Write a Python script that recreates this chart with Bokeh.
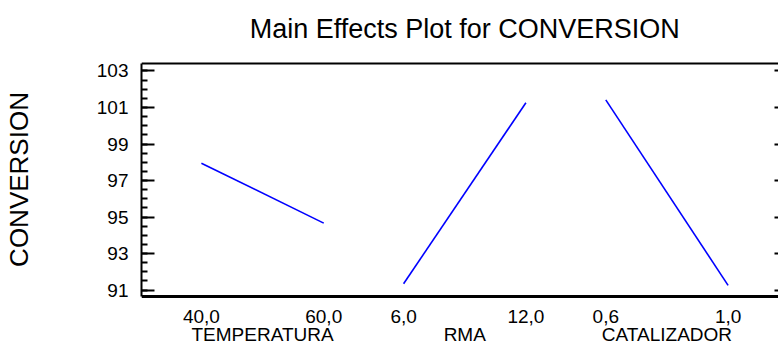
from bokeh.plotting import figure
from bokeh.models import Range1d, LinearAxis, FixedTicker, Span
from bokeh.core.properties import value
from bokeh.embed import file_html
from bokeh.resources import INLINE

# ---- data ----
title_text = "Main Effects Plot for CONVERSION"
y_title = "CONVERSION"
factors = ["TEMPERATURA", "RMA", "CATALIZADOR"]
low_labels = ["40,0", "6,0", "0,6"]
high_labels = ["60,0", "12,0", "1,0"]
low_means = [97.95, 91.35, 101.42]
high_means = [94.67, 101.26, 91.26]
y_ticks = [91, 93, 95, 97, 99, 101, 103]

# ---- layout constants ----
PANEL = 400   # x-units between factor panels
SPAN = 242    # x-units between low and high level within a panel
FONT = "Liberation Sans"
BLUE = "#0000FF"
Y_LO, Y_HI = 90.65, 103.41      # value window of the boxed plot area
BOX_H = 233                     # boxed area height in px
BELOW = 46                      # px under the box for the x labels
ABOVE = 47                      # px over the box for the title
ppu = BOX_H / (Y_HI - Y_LO)
y_start = Y_LO - BELOW / ppu
y_end = Y_HI + ABOVE / ppu

p = figure(width=778, height=342, output_backend="svg", toolbar_location=None,
           x_range=Range1d(-118.5, 1141.7), y_range=Range1d(y_start, y_end),
           x_axis_location=None, y_axis_location=None,
           min_border_left=140, min_border_top=342 - BELOW - BOX_H - ABOVE,
           min_border_right=0, min_border_bottom=0)
p.outline_line_color = None
p.background_fill_color = "white"
p.border_fill_color = "white"
p.xgrid.visible = False
p.ygrid.visible = False

# left axis
minor = [y_ticks[0] + 0.5 * i for i in range(int((y_ticks[-1] - y_ticks[0]) / 0.5) + 1)]
yax = LinearAxis(ticker=FixedTicker(ticks=y_ticks, minor_ticks=minor), bounds=(Y_LO, Y_HI))
yax.axis_label = y_title
yax.axis_label_text_font = FONT
yax.axis_label_text_font_size = "26px"
yax.axis_label_text_font_style = "normal"
yax.axis_label_text_color = "black"
yax.axis_label_standoff = 60
yax.major_label_text_font = FONT
yax.major_label_text_font_size = "19px"
yax.major_label_text_color = "black"
yax.major_label_standoff = 13
yax.axis_line_width = 2
yax.major_tick_in = 13
yax.major_tick_out = 0
yax.minor_tick_in = 6
yax.minor_tick_out = 0
yax.major_tick_line_width = 2
yax.minor_tick_line_width = 2
p.add_layout(yax, "left")

# right axis: ticks only
rax = LinearAxis(ticker=FixedTicker(ticks=y_ticks), bounds=(Y_LO, Y_HI))
rax.major_label_overrides = {t: "" for t in y_ticks}
rax.axis_line_color = None
rax.major_tick_in = 4
rax.major_tick_out = 0
rax.minor_tick_line_color = None
rax.major_tick_line_width = 2
rax.major_label_standoff = 0
p.add_layout(rax, "right")

# top and bottom borders of the box
p.add_layout(Span(location=Y_HI, dimension="width", line_color="black", line_width=2))
p.add_layout(Span(location=Y_LO, dimension="width", line_color="black", line_width=3))

# title, centred over the factor panels
p.text(x=[PANEL + SPAN / 2], y=[Y_HI], text=[title_text], y_offset=-35,
       text_font=value(FONT), text_font_size="27px", text_color="black",
       text_align="center", text_baseline="alphabetic")

# level labels and factor names under the box
lvl_x, lvl_text = [], []
for i in range(len(factors)):
    lvl_x += [i * PANEL, i * PANEL + SPAN]
    lvl_text += [low_labels[i], high_labels[i]]
p.text(x=lvl_x, y=[Y_LO] * len(lvl_x), text=lvl_text, y_offset=20,
       text_font=value(FONT), text_font_size="19px", text_color="black",
       text_align="center", text_baseline="alphabetic")
name_x = [i * PANEL + SPAN / 2 for i in range(len(factors))]
p.text(x=name_x, y=[Y_LO] * len(name_x), text=factors, y_offset=38,
       text_font=value(FONT), text_font_size="19px", text_color="black",
       text_align="center", text_baseline="alphabetic")

# main effects lines
for i in range(len(factors)):
    p.line(x=[i * PANEL, i * PANEL + SPAN], y=[low_means[i], high_means[i]],
           line_color=BLUE, line_width=1.6)

open("out.html", "w").write(file_html(p, INLINE))
